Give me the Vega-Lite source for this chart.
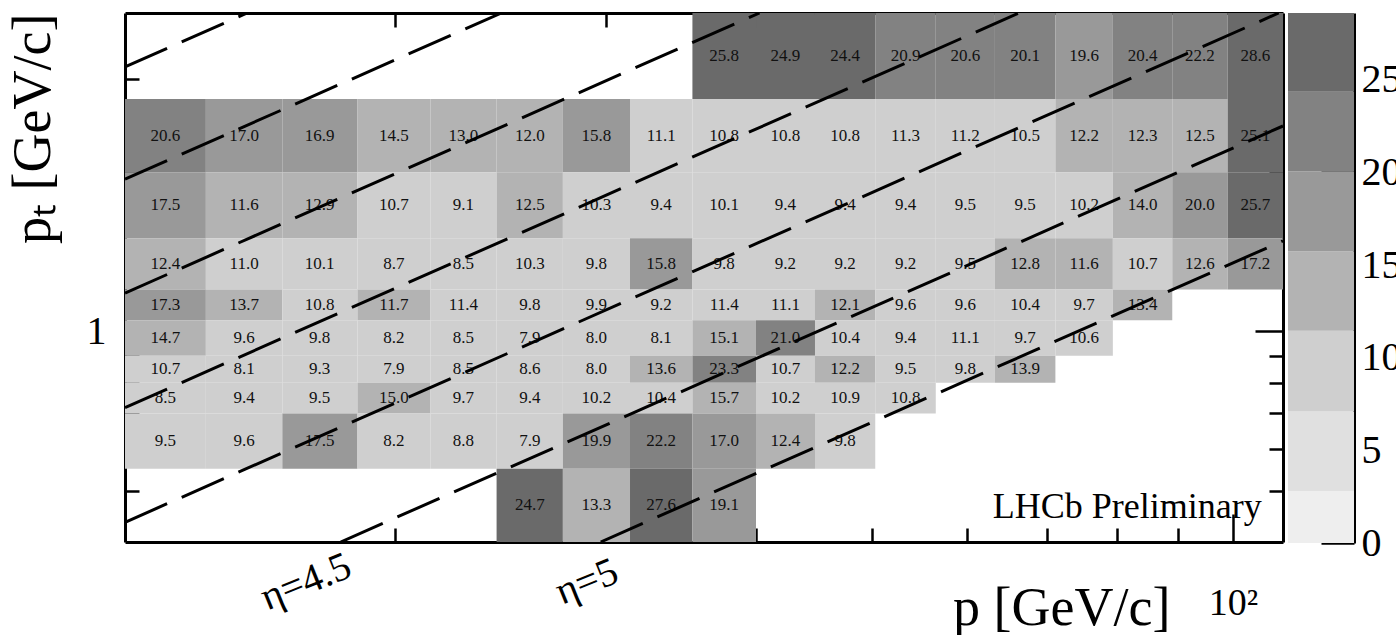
{
  "$schema": "https://vega.github.io/schema/vega-lite/v6.json",
  "background": "white",
  "padding": {"left": 5, "top": 11, "right": 0, "bottom": 0},
  "spacing": 3,
  "config": {
    "view": {"stroke": null},
    "font": "Liberation Serif",
    "axis": {
      "grid": false,
      "domainColor": "black",
      "domainWidth": 3,
      "tickColor": "black",
      "tickWidth": 2.5,
      "labelColor": "black",
      "titleColor": "black",
      "labelFont": "Liberation Serif",
      "titleFont": "Liberation Serif",
      "titleFontWeight": "normal",
      "labelFlush": false
    }
  },
  "datasets": {
    "cols": [
      {"c": 1, "p_lo": 11.9, "p_hi": 13.9, "p_mid": 12.86},
      {"c": 2, "p_lo": 13.9, "p_hi": 16.1, "p_mid": 14.96},
      {"c": 3, "p_lo": 16.1, "p_hi": 18.6, "p_mid": 17.3},
      {"c": 4, "p_lo": 18.6, "p_hi": 21.4, "p_mid": 19.95},
      {"c": 5, "p_lo": 21.4, "p_hi": 24.3, "p_mid": 22.8},
      {"c": 6, "p_lo": 24.3, "p_hi": 27.6, "p_mid": 25.9},
      {"c": 7, "p_lo": 27.6, "p_hi": 31.4, "p_mid": 29.44},
      {"c": 8, "p_lo": 31.4, "p_hi": 35.4, "p_mid": 33.34},
      {"c": 9, "p_lo": 35.4, "p_hi": 40.0, "p_mid": 37.63},
      {"c": 10, "p_lo": 40.0, "p_hi": 44.8, "p_mid": 42.33},
      {"c": 11, "p_lo": 44.8, "p_hi": 50.3, "p_mid": 47.47},
      {"c": 12, "p_lo": 50.3, "p_hi": 56.5, "p_mid": 53.31},
      {"c": 13, "p_lo": 56.5, "p_hi": 63.3, "p_mid": 59.8},
      {"c": 14, "p_lo": 63.3, "p_hi": 71.1, "p_mid": 67.09},
      {"c": 15, "p_lo": 71.1, "p_hi": 79.4, "p_mid": 75.14},
      {"c": 16, "p_lo": 79.4, "p_hi": 89.0, "p_mid": 84.06},
      {"c": 17, "p_lo": 89.0, "p_hi": 99.0, "p_mid": 93.87},
      {"c": 18, "p_lo": 99.0, "p_hi": 110.1, "p_mid": 104.4}
    ],
    "rows": [
      {"r": "A", "pt_lo": 2.75, "pt_hi": 4.0, "pt_mid": 3.317},
      {"r": "B", "pt_lo": 2.0, "pt_hi": 2.75, "pt_mid": 2.345},
      {"r": "C", "pt_lo": 1.5, "pt_hi": 2.0, "pt_mid": 1.732},
      {"r": "D", "pt_lo": 1.2, "pt_hi": 1.5, "pt_mid": 1.342},
      {"r": "E", "pt_lo": 1.05, "pt_hi": 1.2, "pt_mid": 1.122},
      {"r": "F", "pt_lo": 0.9, "pt_hi": 1.05, "pt_mid": 0.972},
      {"r": "G", "pt_lo": 0.8, "pt_hi": 0.9, "pt_mid": 0.849},
      {"r": "H", "pt_lo": 0.7, "pt_hi": 0.8, "pt_mid": 0.748},
      {"r": "I", "pt_lo": 0.55, "pt_hi": 0.7, "pt_mid": 0.62},
      {"r": "J", "pt_lo": 0.4, "pt_hi": 0.55, "pt_mid": 0.469}
    ],
    "cells": [
      {"r": "A", "c": 9, "v": 25.8}, {"r": "A", "c": 10, "v": 24.9}, {"r": "A", "c": 11, "v": 24.4},
      {"r": "A", "c": 12, "v": 20.9}, {"r": "A", "c": 13, "v": 20.6}, {"r": "A", "c": 14, "v": 20.1},
      {"r": "A", "c": 15, "v": 19.6}, {"r": "A", "c": 16, "v": 20.4}, {"r": "A", "c": 17, "v": 22.2},
      {"r": "A", "c": 18, "v": 28.6},
      {"r": "B", "c": 1, "v": 20.6}, {"r": "B", "c": 2, "v": 17.0}, {"r": "B", "c": 3, "v": 16.9},
      {"r": "B", "c": 4, "v": 14.5}, {"r": "B", "c": 5, "v": 13.0}, {"r": "B", "c": 6, "v": 12.0},
      {"r": "B", "c": 7, "v": 15.8}, {"r": "B", "c": 8, "v": 11.1}, {"r": "B", "c": 9, "v": 10.8},
      {"r": "B", "c": 10, "v": 10.8}, {"r": "B", "c": 11, "v": 10.8}, {"r": "B", "c": 12, "v": 11.3},
      {"r": "B", "c": 13, "v": 11.2}, {"r": "B", "c": 14, "v": 10.5}, {"r": "B", "c": 15, "v": 12.2},
      {"r": "B", "c": 16, "v": 12.3}, {"r": "B", "c": 17, "v": 12.5}, {"r": "B", "c": 18, "v": 25.1},
      {"r": "C", "c": 1, "v": 17.5}, {"r": "C", "c": 2, "v": 11.6}, {"r": "C", "c": 3, "v": 12.9},
      {"r": "C", "c": 4, "v": 10.7}, {"r": "C", "c": 5, "v": 9.1}, {"r": "C", "c": 6, "v": 12.5},
      {"r": "C", "c": 7, "v": 10.3}, {"r": "C", "c": 8, "v": 9.4}, {"r": "C", "c": 9, "v": 10.1},
      {"r": "C", "c": 10, "v": 9.4}, {"r": "C", "c": 11, "v": 9.4}, {"r": "C", "c": 12, "v": 9.4},
      {"r": "C", "c": 13, "v": 9.5}, {"r": "C", "c": 14, "v": 9.5}, {"r": "C", "c": 15, "v": 10.2},
      {"r": "C", "c": 16, "v": 14.0}, {"r": "C", "c": 17, "v": 20.0}, {"r": "C", "c": 18, "v": 25.7},
      {"r": "D", "c": 1, "v": 12.4}, {"r": "D", "c": 2, "v": 11.0}, {"r": "D", "c": 3, "v": 10.1},
      {"r": "D", "c": 4, "v": 8.7}, {"r": "D", "c": 5, "v": 8.5}, {"r": "D", "c": 6, "v": 10.3},
      {"r": "D", "c": 7, "v": 9.8}, {"r": "D", "c": 8, "v": 15.8}, {"r": "D", "c": 9, "v": 9.8},
      {"r": "D", "c": 10, "v": 9.2}, {"r": "D", "c": 11, "v": 9.2}, {"r": "D", "c": 12, "v": 9.2},
      {"r": "D", "c": 13, "v": 9.5}, {"r": "D", "c": 14, "v": 12.8}, {"r": "D", "c": 15, "v": 11.6},
      {"r": "D", "c": 16, "v": 10.7}, {"r": "D", "c": 17, "v": 12.6}, {"r": "D", "c": 18, "v": 17.2},
      {"r": "E", "c": 1, "v": 17.3}, {"r": "E", "c": 2, "v": 13.7}, {"r": "E", "c": 3, "v": 10.8},
      {"r": "E", "c": 4, "v": 11.7}, {"r": "E", "c": 5, "v": 11.4}, {"r": "E", "c": 6, "v": 9.8},
      {"r": "E", "c": 7, "v": 9.9}, {"r": "E", "c": 8, "v": 9.2}, {"r": "E", "c": 9, "v": 11.4},
      {"r": "E", "c": 10, "v": 11.1}, {"r": "E", "c": 11, "v": 12.1}, {"r": "E", "c": 12, "v": 9.6},
      {"r": "E", "c": 13, "v": 9.6}, {"r": "E", "c": 14, "v": 10.4}, {"r": "E", "c": 15, "v": 9.7},
      {"r": "E", "c": 16, "v": 13.4},
      {"r": "F", "c": 1, "v": 14.7}, {"r": "F", "c": 2, "v": 9.6}, {"r": "F", "c": 3, "v": 9.8},
      {"r": "F", "c": 4, "v": 8.2}, {"r": "F", "c": 5, "v": 8.5}, {"r": "F", "c": 6, "v": 7.9},
      {"r": "F", "c": 7, "v": 8.0}, {"r": "F", "c": 8, "v": 8.1}, {"r": "F", "c": 9, "v": 15.1},
      {"r": "F", "c": 10, "v": 21.0}, {"r": "F", "c": 11, "v": 10.4}, {"r": "F", "c": 12, "v": 9.4},
      {"r": "F", "c": 13, "v": 11.1}, {"r": "F", "c": 14, "v": 9.7}, {"r": "F", "c": 15, "v": 10.6},
      {"r": "G", "c": 1, "v": 10.7}, {"r": "G", "c": 2, "v": 8.1}, {"r": "G", "c": 3, "v": 9.3},
      {"r": "G", "c": 4, "v": 7.9}, {"r": "G", "c": 5, "v": 8.5}, {"r": "G", "c": 6, "v": 8.6},
      {"r": "G", "c": 7, "v": 8.0}, {"r": "G", "c": 8, "v": 13.6}, {"r": "G", "c": 9, "v": 23.3},
      {"r": "G", "c": 10, "v": 10.7}, {"r": "G", "c": 11, "v": 12.2}, {"r": "G", "c": 12, "v": 9.5},
      {"r": "G", "c": 13, "v": 9.8}, {"r": "G", "c": 14, "v": 13.9},
      {"r": "H", "c": 1, "v": 8.5}, {"r": "H", "c": 2, "v": 9.4}, {"r": "H", "c": 3, "v": 9.5},
      {"r": "H", "c": 4, "v": 15.0}, {"r": "H", "c": 5, "v": 9.7}, {"r": "H", "c": 6, "v": 9.4},
      {"r": "H", "c": 7, "v": 10.2}, {"r": "H", "c": 8, "v": 10.4}, {"r": "H", "c": 9, "v": 15.7},
      {"r": "H", "c": 10, "v": 10.2}, {"r": "H", "c": 11, "v": 10.9}, {"r": "H", "c": 12, "v": 10.8},
      {"r": "I", "c": 1, "v": 9.5}, {"r": "I", "c": 2, "v": 9.6}, {"r": "I", "c": 3, "v": 17.5},
      {"r": "I", "c": 4, "v": 8.2}, {"r": "I", "c": 5, "v": 8.8}, {"r": "I", "c": 6, "v": 7.9},
      {"r": "I", "c": 7, "v": 19.9}, {"r": "I", "c": 8, "v": 22.2}, {"r": "I", "c": 9, "v": 17.0},
      {"r": "I", "c": 10, "v": 12.4}, {"r": "I", "c": 11, "v": 9.8},
      {"r": "J", "c": 6, "v": 24.7}, {"r": "J", "c": 7, "v": 13.3}, {"r": "J", "c": 8, "v": 27.6},
      {"r": "J", "c": 9, "v": 19.1}
    ],
    "etaLines": [
      {"eta": 2.0, "p": 11.9, "pt": 3.163}, {"eta": 2.0, "p": 15.05, "pt": 4.0},
      {"eta": 2.5, "p": 11.9, "pt": 1.941}, {"eta": 2.5, "p": 24.53, "pt": 4.0},
      {"eta": 3.0, "p": 11.9, "pt": 1.182}, {"eta": 3.0, "p": 40.27, "pt": 4.0},
      {"eta": 3.5, "p": 11.9, "pt": 0.718}, {"eta": 3.5, "p": 66.29, "pt": 4.0},
      {"eta": 4.0, "p": 11.9, "pt": 0.4358}, {"eta": 4.0, "p": 109.2, "pt": 4.0},
      {"eta": 4.5, "p": 18.01, "pt": 0.4}, {"eta": 4.5, "p": 110.1, "pt": 2.446},
      {"eta": 5.0, "p": 29.68, "pt": 0.4}, {"eta": 5.0, "p": 110.1, "pt": 1.484}
    ],
    "etaLabels": [
      {"label": "η=4.5", "p": 16.85, "pt": 0.336},
      {"label": "η=5", "p": 28.9, "pt": 0.336}
    ],
    "stamp": [
      {"label": "LHCb Preliminary", "p": 105.7, "pt": 0.4438}
    ],
    "bands": [
      {"lo": 0, "hi": 2.8},
      {"lo": 2.8, "hi": 7.1},
      {"lo": 7.1, "hi": 11.45},
      {"lo": 11.45, "hi": 15.75},
      {"lo": 15.75, "hi": 20.05},
      {"lo": 20.05, "hi": 24.35},
      {"lo": 24.35, "hi": 28.6}
    ]
  },
  "hconcat": [
    {
      "width": 1158,
      "height": 529,
      "resolve": {"axis": {"x": "independent", "y": "independent"}},
      "layer": [
        {
          "data": {"name": "cells"},
          "transform": [
            {"lookup": "c", "from": {"data": {"name": "cols"}, "key": "c", "fields": ["p_lo", "p_hi", "p_mid"]}},
            {"lookup": "r", "from": {"data": {"name": "rows"}, "key": "r", "fields": ["pt_lo", "pt_hi", "pt_mid"]}}
          ],
          "mark": {"type": "rect"},
          "encoding": {
            "x": {
              "field": "p_lo", "type": "quantitative",
              "scale": {"type": "log", "domain": [11.9, 110.1]},
              "axis": {
                "orient": "bottom", "values": [100], "tickSize": -28,
                "labelExpr": "'10²'", "labelFontSize": 38, "labelPadding": 70,
                "domain": true,
                "title": "p [GeV/c]", "titleFontSize": 54,
                "titleX": 1045, "titleY": 82, "titleAlign": "right", "titleBaseline": "alphabetic"
              }
            },
            "x2": {"field": "p_hi"},
            "y": {
              "field": "pt_lo", "type": "quantitative",
              "scale": {"type": "log", "domain": [0.4, 4.0]},
              "axis": {
                "orient": "left", "values": [1], "tickSize": -28,
                "labelExpr": "'1'", "labelFontSize": 40, "labelPadding": 47,
                "domain": true,
                "title": "pₜ [GeV/c]", "titleFontSize": 54, "titleAnchor": "end", "titlePadding": 26
              }
            },
            "y2": {"field": "pt_hi"},
            "color": {
              "field": "v", "type": "quantitative",
              "scale": {"type": "threshold", "domain": [2.8, 7.1, 11.45, 15.75, 20.05, 24.35],
                        "range": ["#eeeeee", "#e0e0e0", "#cfcfcf", "#b3b3b3", "#999999", "#828282", "#6a6a6a"]},
              "legend": null
            }
          }
        },
        {
          "data": {"name": "cells"},
          "transform": [
            {"lookup": "c", "from": {"data": {"name": "cols"}, "key": "c", "fields": ["p_lo", "p_hi", "p_mid"]}},
            {"lookup": "r", "from": {"data": {"name": "rows"}, "key": "r", "fields": ["pt_lo", "pt_hi", "pt_mid"]}}
          ],
          "mark": {"type": "text", "font": "Liberation Serif", "fontSize": 17, "color": "#111111"},
          "encoding": {
            "x": {
              "field": "p_mid", "type": "quantitative",
              "scale": {"type": "log", "domain": [11.9, 110.1]},
              "axis": {"orient": "bottom", "values": [20, 30, 40, 50, 60, 70, 80, 90], "tickSize": -14,
                       "labels": false, "domain": false, "title": null}
            },
            "y": {
              "field": "pt_mid", "type": "quantitative",
              "scale": {"type": "log", "domain": [0.4, 4.0]},
              "axis": {"orient": "left", "values": [0.5, 0.6, 0.7, 0.8, 0.9, 2, 3], "tickSize": -14,
                       "labels": false, "domain": false, "title": null}
            },
            "text": {"field": "v", "type": "quantitative", "format": ".1f"}
          }
        },
        {
          "data": {"name": "etaLines"},
          "mark": {"type": "line", "color": "black", "strokeWidth": 3, "strokeDash": [46, 16], "clip": true},
          "encoding": {
            "x": {
              "field": "p", "type": "quantitative",
              "scale": {"type": "log", "domain": [11.9, 110.1]},
              "axis": {"orient": "top", "values": [100], "tickSize": -28, "labels": false, "domain": true, "title": null}
            },
            "y": {
              "field": "pt", "type": "quantitative",
              "scale": {"type": "log", "domain": [0.4, 4.0]},
              "axis": {"orient": "right", "values": [1], "tickSize": -28, "labels": false, "domain": true, "title": null}
            },
            "detail": {"field": "eta", "type": "nominal"}
          }
        },
        {
          "data": {"name": "stamp"},
          "mark": {"type": "text", "font": "Liberation Serif", "fontSize": 36, "align": "right", "baseline": "alphabetic", "color": "black"},
          "encoding": {
            "x": {
              "field": "p", "type": "quantitative",
              "scale": {"type": "log", "domain": [11.9, 110.1]},
              "axis": {"orient": "top", "values": [20, 30, 40, 50, 60, 70, 80, 90], "tickSize": -14,
                       "labels": false, "domain": false, "title": null}
            },
            "y": {
              "field": "pt", "type": "quantitative",
              "scale": {"type": "log", "domain": [0.4, 4.0]},
              "axis": {"orient": "right", "values": [0.5, 0.6, 0.7, 0.8, 0.9, 2, 3], "tickSize": -14,
                       "labels": false, "domain": false, "title": null}
            },
            "text": {"field": "label"}
          }
        },
        {
          "data": {"name": "etaLabels"},
          "mark": {"type": "text", "font": "Liberation Serif", "fontSize": 40, "angle": -22, "align": "center", "baseline": "middle", "color": "black", "clip": false},
          "encoding": {
            "x": {"field": "p", "type": "quantitative", "scale": {"type": "log", "domain": [11.9, 110.1]}, "axis": null},
            "y": {"field": "pt", "type": "quantitative", "scale": {"type": "log", "domain": [0.4, 4.0]}, "axis": null},
            "text": {"field": "label"}
          }
        }
      ]
    },
    {
      "width": 66,
      "height": 530,
      "data": {"name": "bands"},
      "mark": {"type": "rect"},
      "encoding": {
        "y": {
          "field": "lo", "type": "quantitative",
          "scale": {"domain": [0, 28.6], "nice": false, "zero": true},
          "axis": {"orient": "right", "values": [0, 5, 10, 15, 20, 25], "tickSize": -33,
                   "labelFontSize": 40, "labelPadding": 40, "labelBaseline": "middle",
                   "domain": true, "title": null}
        },
        "y2": {"field": "hi"},
        "color": {
          "field": "lo", "type": "quantitative",
          "scale": {"type": "threshold", "domain": [2.8, 7.1, 11.45, 15.75, 20.05, 24.35],
                    "range": ["#eeeeee", "#e0e0e0", "#cfcfcf", "#b3b3b3", "#999999", "#828282", "#6a6a6a"]},
          "legend": null
        }
      }
    }
  ]
}
